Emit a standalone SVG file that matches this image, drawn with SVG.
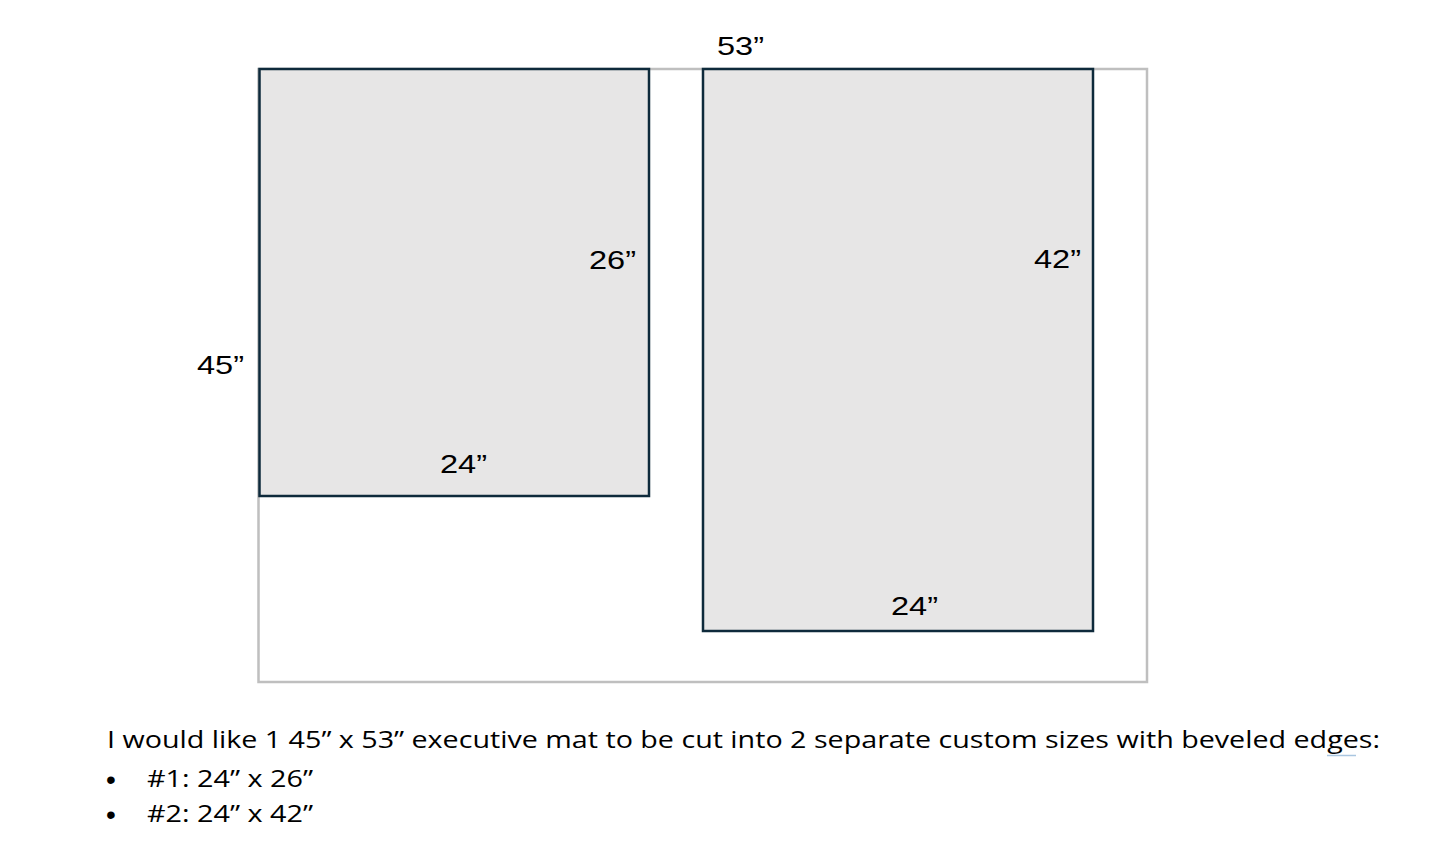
<svg xmlns="http://www.w3.org/2000/svg" width="1445" height="856" viewBox="0 0 1445 856">
<style>
.lbl{font-family:"Liberation Sans",Arial,sans-serif;font-size:26px;fill:#000}
.body{font-family:"Open Sans","Liberation Sans",sans-serif;font-size:24px;fill:#000}
.bul{font-family:"Liberation Sans",Arial,sans-serif;font-size:28px;fill:#000}
.piece{fill:#e7e6e6;stroke:#0e2a3b;stroke-width:2.5}
</style>
<rect width="1445" height="856" fill="#fff"/>
<g id="mat">
<rect x="258.5" y="69" width="888.5" height="613" fill="none" stroke="#bfbfbf" stroke-width="2.5"/>
<text class="lbl" x="717" y="55" textLength="47" lengthAdjust="spacingAndGlyphs">53”</text>
<text class="lbl" x="197" y="374" textLength="47" lengthAdjust="spacingAndGlyphs">45”</text>
</g>
<g id="piece1">
<rect class="piece" x="259.5" y="69" width="389.5" height="427"/>
<text class="lbl" x="589" y="269" textLength="47" lengthAdjust="spacingAndGlyphs">26”</text>
<text class="lbl" x="440" y="473" textLength="47" lengthAdjust="spacingAndGlyphs">24”</text>
</g>
<g id="piece2">
<rect class="piece" x="703" y="69" width="390" height="562"/>
<text class="lbl" x="1034" y="268" textLength="47" lengthAdjust="spacingAndGlyphs">42”</text>
<text class="lbl" x="891" y="615" textLength="47" lengthAdjust="spacingAndGlyphs">24”</text>
</g>
<g id="notes">
<text class="body" x="107" y="748" textLength="1273" lengthAdjust="spacingAndGlyphs">I would like 1 45” x 53” executive mat to be cut into 2 separate custom sizes with beveled edges:</text>
<line x1="1327" y1="755.5" x2="1356" y2="755.5" stroke="#a9c6e0" stroke-width="1.5"/>
<text class="bul" x="106" y="789">•</text>
<text class="body" x="147" y="787" textLength="166" lengthAdjust="spacingAndGlyphs">#1: 24” x 26”</text>
<text class="bul" x="106" y="824">•</text>
<text class="body" x="147" y="822" textLength="166" lengthAdjust="spacingAndGlyphs">#2: 24” x 42”</text>
</g>
</svg>
